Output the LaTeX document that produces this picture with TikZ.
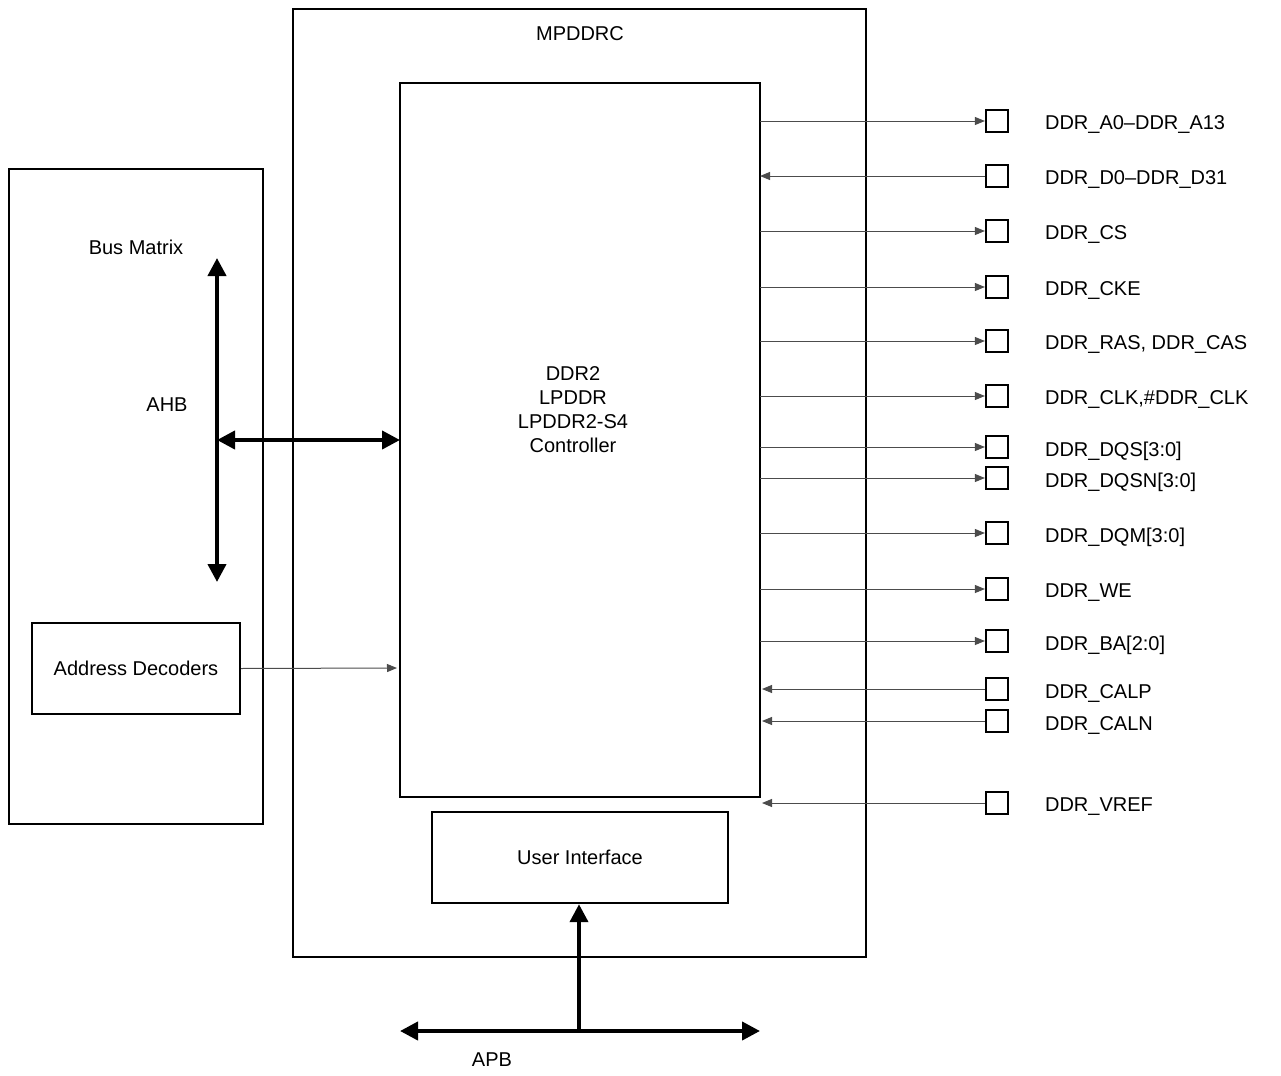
\documentclass[tikz,border=0pt]{standalone}
\usepackage{fontspec}
\setmainfont{Liberation Sans}
\usetikzlibrary{arrows.meta}
\tikzset{
    BX/.style ={rectangle,draw,line width=1.2pt,inner sep=0pt},
    PIN/.style ={rectangle,draw,line width=1.1pt,minimum width=11pt,minimum height=11pt,inner sep=0pt},
    SIG/.style ={gray!60!black,line width=0.5pt,-{Triangle[length=5pt,width=4pt]}},
    BUS/.style ={line width=2pt,{Triangle[length=9pt,width=9pt]}-{Triangle[length=9pt,width=9pt]}},
    LB/.style ={font=\fontsize{10}{12}\selectfont,align=center}}

\begin{document}
\begin{tikzpicture}[x=0.5pt,y=-0.5pt]
        \useasboundingbox (0,0) rectangle (1281,1076);
        % blocks
        \draw[BX] (293,9) rectangle (866,957);
        \node[LB] (mp) at (580,34){MPDDRC};
        \draw[BX] (400,83) rectangle (760,797);
        \coordinate (ctl) at (400,440);
        \node[LB] (ctltxt) at (573,410){DDR2\\LPDDR\\LPDDR2-S4\\Controller};
        \node[BX,minimum width=148pt,minimum height=45.5pt,LB] (ui) at (580,857.5){User Interface};
        \draw[BX] (9,169) rectangle (263,824);
        \node[LB] (bm) at (136,247){Bus Matrix};
        \node[LB] (ahb) at (167,405){AHB};
        \node[BX,minimum width=104pt,minimum height=45.5pt,LB] (ad) at (136,668.5){Address Decoders};
        % buses
        \coordinate (bt) at (217,258);
        \coordinate (bb) at (217,582);
        \coordinate (bm0) at (217,440);
        \draw[BUS] (bt) -- (bb);
        \draw[BUS] (bm0) -- (ctl);
        \draw[SIG] (ad.east) -- (397,668);
        \coordinate (al) at (400,1031);
        \coordinate (ar) at (760,1031);
        \coordinate (am) at (579,1031);
        \draw[BUS] (al) -- (ar);
        \draw[BUS,{Triangle[length=9pt,width=9pt]}-] (ui.south -| am) -- (am);
        \node[LB] (apb) at (492,1060){APB};
        % pins
        \foreach \y/\t/\d in {121/DDR\_A0--DDR\_A13/o, 176/DDR\_D0--DDR\_D31/b, 231/DDR\_CS/o,
            287/DDR\_CKE/o, 341/{DDR\_RAS, DDR\_CAS}/o, 396/{DDR\_CLK,\#DDR\_CLK}/o,
            447/DDR\_DQS[3:0]/o, 478/DDR\_DQSN[3:0]/o, 533/DDR\_DQM[3:0]/o, 589/DDR\_WE/o,
            641/DDR\_BA[2:0]/o, 689/DDR\_CALP/i, 721/DDR\_CALN/i, 803/DDR\_VREF/i}{
            \node[PIN] (p\y) at (997,\y){};
            \node[LB,anchor=west] (t\y) at (1038,\y+4){\t};
            \coordinate (c\y) at (760,\y);
            \if o\d \draw[SIG] (c\y) -- (p\y.west); \fi
            \if b\d \draw[SIG,{Triangle[length=5pt,width=4pt]}-] (c\y) -- (p\y.west); \fi
            \if i\d \draw[SIG] (p\y.west) -- ([xshift=1pt]c\y); \fi
        }
    \end{tikzpicture}
\end{document}
